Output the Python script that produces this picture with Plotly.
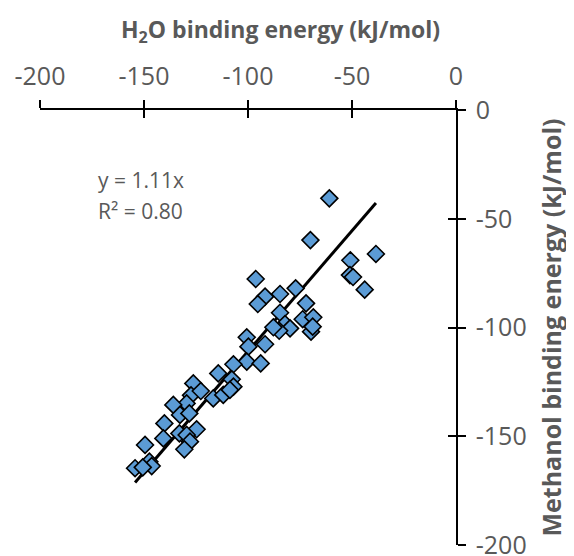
import plotly.graph_objects as go

# H2O binding energy (kJ/mol)
h2o = [-60.9, -70.0, -38.5, -50.8, -51.0, -49.5, -43.9, -96.3, -77.1, -91.8,
       -84.6, -95.3, -72.1, -84.6, -73.7, -68.6, -82.2, -79.8, -85.0, -69.7,
       -68.9, -87.8, -100.6, -91.8, -99.8, -100.6, -93.9, -107.0, -114.3, -107.8,
       -107.0, -126.3, -127.4, -122.7, -116.7, -111.9, -108.7, -129.5, -135.9, -132.7,
       -128.2, -140.2, -124.7, -133.0, -129.5, -140.7, -127.9, -149.5, -130.6, -147.4,
       -146.3, -154.3, -150.6]
# Methanol binding energy (kJ/mol)
methanol = [-40.6, -59.8, -66.2, -69.1, -75.9, -76.8, -82.6, -77.7, -82.0, -85.8,
            -84.6, -89.2, -88.9, -93.2, -96.2, -95.3, -98.4, -100.4, -101.5, -101.9,
            -99.6, -99.9, -104.5, -107.7, -108.8, -115.7, -116.5, -116.9, -121.1, -123.8,
            -127.2, -125.7, -131.2, -129.2, -132.6, -131.0, -128.7, -134.9, -135.6, -140.2,
            -139.5, -144.1, -146.8, -148.7, -149.4, -151.0, -152.5, -154.0, -156.0, -161.7,
            -163.7, -164.7, -164.3]
slope = 1.11
r2 = 0.80
tick_vals = [-200, -150, -100, -50, 0]
tick_labels = ["-200", "-150", "-100", "-50", "0"]

trend_x = [min(h2o), max(h2o)]
trend_y = [slope * v for v in trend_x]

GRAY = "#595959"
FONT = "Open Sans"

fig = go.Figure()
fig.add_trace(go.Scatter(x=trend_x, y=trend_y, mode="lines",
                         line=dict(color="black", width=3), showlegend=False))
fig.add_trace(go.Scatter(x=h2o, y=methanol, mode="markers",
                         marker=dict(symbol="diamond", size=13, color="#5B9BD5",
                                     line=dict(color="black", width=1.6)),
                         showlegend=False))
# invisible trace for overlay axes (inside ticks, to make crossing tick marks)
fig.add_trace(go.Scatter(x=[-100], y=[-100], xaxis="x2", yaxis="y2", mode="markers",
                         marker=dict(opacity=0), showlegend=False, hoverinfo="skip"))

axis_common = dict(range=[-200, 0], tickvals=tick_vals, ticktext=tick_labels,
                   showgrid=False, zeroline=False, automargin=False,
                   showline=True, linecolor="black", linewidth=1.5,
                   tickcolor="black", tickwidth=1.5, ticklen=8)

fig.update_layout(
    width=574, height=556,
    margin=dict(l=32, r=126, t=102, b=19),
    paper_bgcolor="white", plot_bgcolor="white",
    font=dict(family=FONT, color=GRAY),
    xaxis=dict(**axis_common, side="top", ticks="outside",
               tickfont=dict(size=25, color=GRAY), ticklabelstandoff=5,
               ticklabeloverflow="allow"),
    yaxis=dict(**axis_common, side="right", ticks="outside",
               tickfont=dict(size=25, color=GRAY), ticklabelstandoff=5,
               ticklabeloverflow="allow",
               title=dict(text="<b>Methanol binding energy (kJ/mol)</b>",
                          font=dict(size=25, color=GRAY), standoff=18)),
    xaxis2=dict(**axis_common, overlaying="x", side="top", ticks="inside",
                showticklabels=False, anchor="y2"),
    yaxis2=dict(**axis_common, overlaying="y", side="right", ticks="inside",
                showticklabels=False, anchor="x2"),
    annotations=[
        dict(xref="paper", yref="paper", x=(280 - 40) / 416, y=1 + (110 - 30) / 435,
             xanchor="center", yanchor="middle", showarrow=False,
             text="<b>H<sub>2</sub>O binding energy (kJ/mol)</b>",
             font=dict(size=23, color=GRAY, family=FONT)),
        dict(xref="paper", yref="paper", x=(96 - 40) / 416, y=1 - (180 - 110) / 435,
             xanchor="left", yanchor="middle", showarrow=False,
             text=f"y = {slope:.2f}x", font=dict(size=21, color=GRAY, family=FONT)),
        dict(xref="paper", yref="paper", x=(96 - 40) / 416, y=1 - (211 - 110) / 435,
             xanchor="left", yanchor="middle", showarrow=False,
             text=f"R² = {r2:.2f}", font=dict(size=21, color=GRAY, family=FONT)),
    ],
)

fig.write_html("out.html")
